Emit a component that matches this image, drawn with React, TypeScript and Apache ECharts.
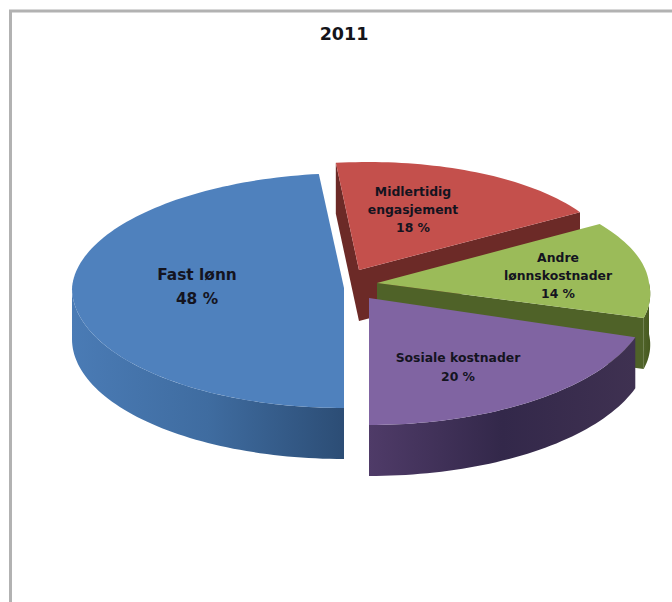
import React, { useEffect, useRef } from "react";
import * as echarts from "echarts";

// Paint order runs from the back slice to the front slice.
const categories = ["Midlertidig\nengasjement", "Andre\nlønnskostnader", "Sosiale kostnader", "Fast lønn"];
const shares = [18, 14, 20, 48];
const chartTitle = "2011";

const FIRST_SLICE_ANGLE = -7.2;
const DEPTH = 51;
const WIDTH = 672;
const HEIGHT = 602;

// Exploded slices: apex, radii, and the perspective lean of the back and front halves.
const sliceLayout = [
  { ax: 359, ay: 270, rx: 256, back: 108, front: 120, leanBack: 9, leanFront: 0 },
  { ax: 377, ay: 283, rx: 272, back: 110, front: 113, leanBack: -13, leanFront: -26 },
  { ax: 369, ay: 298, rx: 280, back: 110, front: 127, leanBack: 0, leanFront: 0 },
  { ax: 344, ay: 288, rx: 272, back: 115, front: 120, leanBack: 9, leanFront: 0 },
];

const topColors = ["#c4504c", "#9bbb59", "#8064a2", "#4f81bd"];
const faceColors = ["#6c2a27", "#4f6228", "#3f3151", "#2f5279"];
const outerStops = [
  ["#6c2a27", "#6c2a27"],
  ["#4f6228", "#46581f"],
  ["#4f3b68", "#33284a", "#3f3151"],
  ["#4a7bb5", "#3f6ca0", "#2c4d75"],
];

const labelLayout = [
  { x: 413, y: 209, size: 12.4, lineHeight: 18 },
  { x: 558, y: 275, size: 12.4, lineHeight: 18 },
  { x: 458, y: 367, size: 12.4, lineHeight: 19 },
  { x: 197, y: 287, size: 15.4, lineHeight: 24 },
];

const rad = (deg: number) => (deg * Math.PI) / 180;

function project(i: number, deg: number, drop = 0): number[] {
  const s = sliceLayout[i];
  const c = Math.cos(rad(deg));
  const x = s.ax + s.rx * Math.sin(rad(deg)) + (c > 0 ? s.leanBack : s.leanFront) * c;
  const y = s.ay - (c > 0 ? s.back : s.front) * c + drop;
  return [x, y];
}

function arcPoints(i: number, from: number, to: number, drop = 0): number[][] {
  const pts: number[][] = [];
  const steps = Math.max(2, Math.ceil(Math.abs(to - from) / 1.5));
  for (let k = 0; k <= steps; k++) pts.push(project(i, from + ((to - from) * k) / steps, drop));
  return pts;
}

function sliceBounds(index: number): [number, number] {
  const total = shares.reduce((a, b) => a + b, 0);
  const before = shares.slice(0, index).reduce((a, b) => a + b, 0);
  const start = FIRST_SLICE_ANGLE + (before / total) * 360;
  return [start, start + (shares[index] / total) * 360];
}

function renderSlice(params: any) {
  const i = params.dataIndex;
  const [start, end] = sliceBounds(i);
  const s = sliceLayout[i];
  const children: any[] = [];

  // Radial faces are drawn only when they turn toward the viewer.
  [
    { angle: start, side: -90 },
    { angle: end, side: 90 },
  ].forEach(({ angle, side }) => {
    if (Math.cos(rad(angle + side)) < 0) {
      const tip = project(i, angle);
      children.push({
        type: "polygon",
        shape: { points: [[s.ax, s.ay], tip, [tip[0], tip[1] + DEPTH], [s.ax, s.ay + DEPTH]] },
        style: { fill: faceColors[i] },
      });
    }
  });

  // Rim of the slice, limited to the front half of the disc.
  const rimFrom = Math.max(start, 90);
  const rimTo = Math.min(end, 270);
  if (rimTo > rimFrom) {
    const stops = outerStops[i];
    const colorStops = stops.map((color, k) => ({ offset: k / (stops.length - 1), color }));
    children.push({
      type: "polygon",
      shape: { points: [...arcPoints(i, rimFrom, rimTo), ...arcPoints(i, rimTo, rimFrom, DEPTH)] },
      style: { fill: new echarts.graphic.LinearGradient(0, 0, 1, 0, colorStops) },
    });
  }

  children.push({
    type: "polygon",
    shape: { points: [[s.ax, s.ay], ...arcPoints(i, start, end)] },
    style: { fill: topColors[i] },
  });

  const label = labelLayout[i];
  children.push({
    type: "text",
    x: label.x,
    y: label.y,
    style: {
      text: `${categories[i]}\n${shares[i]} %`,
      fill: "#14141f",
      font: `bold ${label.size}px "DejaVu Sans"`,
      lineHeight: label.lineHeight,
      textAlign: "center",
      textVerticalAlign: "middle",
    },
  });

  return { type: "group", children };
}

export default function App() {
  const ref = useRef<HTMLDivElement>(null);

  useEffect(() => {
    const chart = echarts.init(ref.current!, undefined, { renderer: "svg" });
    chart.setOption({
      animation: false,
      backgroundColor: "#ffffff",
      title: {
        text: chartTitle,
        left: 339,
        top: 20,
        textAlign: "center",
        textStyle: { fontFamily: "DejaVu Sans", fontWeight: "bold", fontSize: 17.5, color: "#14141a" },
      },
      graphic: [
        { type: "line", shape: { x1: 10.5, y1: 11, x2: 10.5, y2: HEIGHT }, style: { stroke: "#b2b2b2", lineWidth: 3 } },
        { type: "line", shape: { x1: 9, y1: 11, x2: WIDTH, y2: 11 }, style: { stroke: "#b2b2b2", lineWidth: 3 } },
      ],
      series: [
        {
          type: "custom",
          coordinateSystem: "none",
          data: shares.map((value, i) => ({ name: categories[i], value })),
          renderItem: renderSlice,
          silent: true,
        },
      ],
    });
    return () => chart.dispose();
  }, []);

  return <div ref={ref} style={{ position: "absolute", left: 0, top: 0, width: WIDTH, height: HEIGHT }} />;
}
